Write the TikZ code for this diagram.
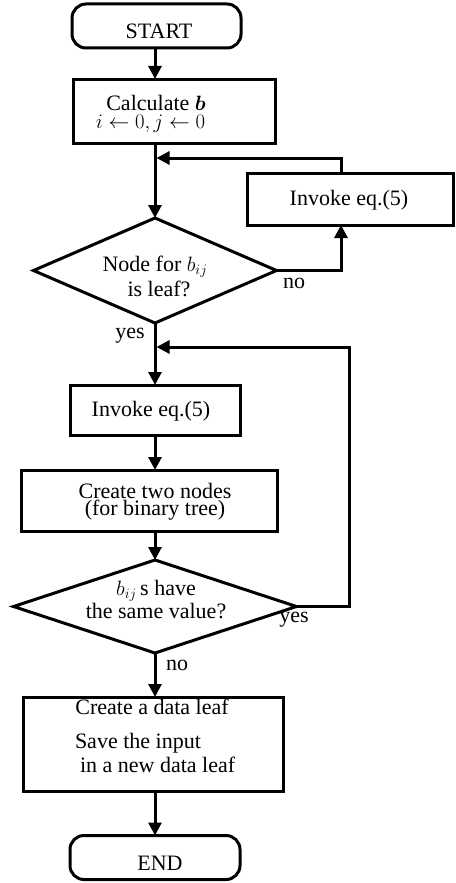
\documentclass[tikz,border=0pt]{standalone}
\usepackage{amsmath}
\usepackage{fontspec}
\setmainfont{Liberation Serif}
\usetikzlibrary{arrows.meta,shapes.geometric}
\begin{document}
\begin{tikzpicture}[x=1pt,y=-1pt,
  every node/.style={font=\fontsize{22}{20}\selectfont, inner sep=0pt, outer sep=0pt},
  boxstyle/.style={draw, line width=3pt, rectangle},
  termstyle/.style={boxstyle, rounded corners=14pt},
  decstyle/.style={draw, line width=3pt, diamond},
  txt/.style={anchor=base},
  ltxt/.style={anchor=base west},
  flow/.style={line width=3pt, -{Triangle[length=13pt,width=13pt]}},
  plain/.style={line width=3pt}]
\useasboundingbox (0,0) rectangle (455,883);
% shapes
\node[termstyle, minimum width=169pt, minimum height=44pt] (start) at (156.5,26) {};
\node[boxstyle, minimum width=202pt, minimum height=64pt] (calc) at (174,111) {};
\node[decstyle, minimum width=243pt, minimum height=105pt] (d1) at (155,270.5) {};
\node[boxstyle, minimum width=206pt, minimum height=52pt] (inv1) at (350,199) {};
\node[boxstyle, minimum width=170pt, minimum height=50pt] (inv2) at (155,410) {};
\node[boxstyle, minimum width=256pt, minimum height=61pt] (two) at (149,500.5) {};
\node[decstyle, minimum width=283pt, minimum height=93pt] (d2) at (155,606.5) {};
\node[boxstyle, minimum width=260pt, minimum height=94pt] (leaf) at (153,744) {};
\node[termstyle, minimum width=170pt, minimum height=44pt] (end) at (155,857.5) {};
% texts
\node[txt] (tstart) at (159,39) {START};
\node[txt] (tcalc1) at (156,110) {Calculate $\boldsymbol{b}$};
\node[txt] (tcalc2) at (150.5,128) {$i\leftarrow 0, j\leftarrow 0$};
\node[txt] (tinv1) at (349,205.5) {Invoke eq.(5)};
\node[txt] (td1a) at (155,271.5) {Node for $b_{ij}$};
\node[txt] (td1b) at (159,296.5) {is leaf?};
\node[txt] (tno1) at (294,288) {no};
\node[txt] (tyes1) at (130,338) {yes};
\node[txt] (tinv2) at (151,416) {Invoke eq.(5)};
\node[txt] (ttwo1) at (155,498) {Create two nodes};
\node[txt] (ttwo2) at (155,515) {(for binary tree)};
\node[txt] (td2a) at (156,595) {$b_{ij}\,$s have};
\node[txt] (td2b) at (156,618) {the same value?};
\node[txt] (tyes2) at (294,622) {yes};
\node[txt] (tno2) at (177,670) {no};
\node[txt] (tleaf1) at (152,714) {Create a data leaf};
\node[ltxt] (tleaf2) at (75,748) {Save the input};
\node[ltxt] (tleaf3) at (80,772) {in a new data leaf};
\node[txt] (tend) at (160,870) {END};
% junctions
\coordinate (j1) at (156.5,158);
\coordinate (j2) at (156.5,347);
\coordinate (r2) at (349,347);
% connectors
\draw[flow] (start.south -| d1.north) -- (calc.north -| d1.north);
\draw[flow] (calc.south -| d1.north) -- (d1.north);
\draw[flow] (d1.east) -| ([xshift=-9pt]inv1.south);
\draw[flow] ([xshift=-9pt]inv1.north) |- (j1);
\draw[flow] (d1.south) -- (inv2.north);
\draw[flow] (inv2.south) -- (two.north -| inv2.south);
\draw[flow] (two.south -| d2.north) -- (d2.north);
\draw[flow] (d2.east) -| (r2) -- (j2);
\draw[flow] (d2.south) -- (leaf.north -| d2.south);
\draw[flow] (leaf.south -| d2.south) -- (end.north);
\end{tikzpicture}
\end{document}
